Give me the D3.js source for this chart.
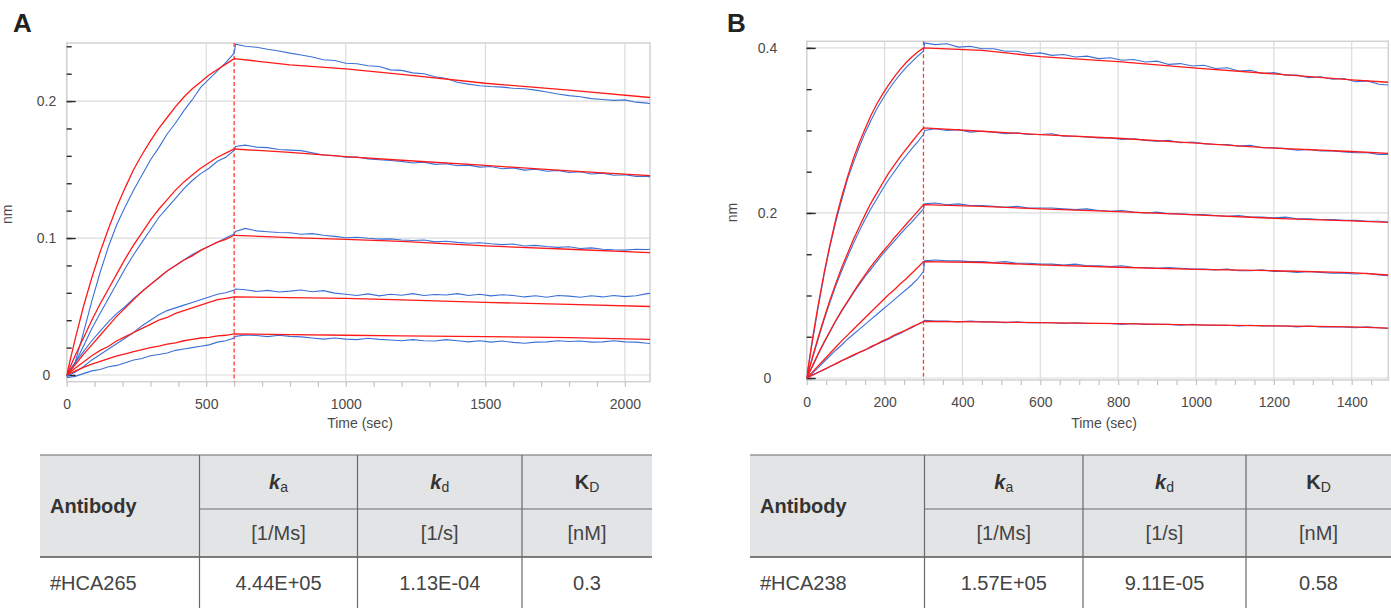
<!DOCTYPE html>
<html>
<head>
<meta charset="utf-8">
<script src="https://cdn.jsdelivr.net/npm/d3@7"></script>
<style>
  body { margin: 0; background: #fff; }
  text { font-family: "Liberation Sans", Arial, sans-serif; }
</style>
</head>
<body>
<svg id="chart" width="1391" height="608"></svg>
<script>
// ---------------- data : panel A (#HCA265) ----------------
var assocTimeA = [0, 30, 60, 90, 120, 150, 180, 210, 240, 270, 300, 330, 360, 390, 420, 450, 480, 510, 540, 570, 600];
var dissocTimeA = [605, 640, 680, 720, 760, 800, 840, 880, 920, 960, 1000, 1040, 1080, 1120, 1160, 1200, 1240, 1280, 1320, 1360,
  1400, 1440, 1480, 1520, 1560, 1600, 1640, 1680, 1720, 1760, 1800, 1840, 1880, 1920, 1960, 2000, 2040, 2080, 2090];
var fitDissocTimeA = [600, 800, 1000, 1200, 1500, 1800, 2090];

var measuredAssocA = [
  [-0.002, 0.009, 0.031, 0.054, 0.075, 0.094, 0.110, 0.123, 0.135, 0.146, 0.157, 0.166, 0.176, 0.184, 0.193, 0.201, 0.210, 0.216, 0.222, 0.228, 0.235],
  [0.000, 0.009, 0.021, 0.034, 0.045, 0.056, 0.067, 0.078, 0.088, 0.097, 0.106, 0.115, 0.122, 0.129, 0.136, 0.142, 0.147, 0.151, 0.156, 0.159, 0.164],
  [0.000, 0.009, 0.017, 0.025, 0.032, 0.039, 0.045, 0.050, 0.056, 0.061, 0.066, 0.071, 0.076, 0.080, 0.084, 0.088, 0.091, 0.094, 0.097, 0.100, 0.103],
  [-0.001, 0.002, 0.006, 0.011, 0.015, 0.019, 0.023, 0.027, 0.031, 0.036, 0.040, 0.044, 0.047, 0.049, 0.051, 0.053, 0.055, 0.057, 0.059, 0.060, 0.062],
  [-0.002, -0.001, 0.001, 0.003, 0.004, 0.006, 0.007, 0.009, 0.011, 0.012, 0.014, 0.015, 0.016, 0.018, 0.019, 0.020, 0.021, 0.022, 0.024, 0.025, 0.027]
];
var measuredDissocA = [
  [0.2415, 0.2400, 0.2393, 0.2378, 0.2366, 0.2350, 0.2336, 0.2322, 0.2302, 0.2296, 0.2276, 0.2272, 0.2258, 0.2252, 0.2228, 0.2224, 0.2206, 0.2200, 0.2178, 0.2165,
   0.2138, 0.2124, 0.2112, 0.2106, 0.2102, 0.2094, 0.2090, 0.2080, 0.2066, 0.2052, 0.2040, 0.2032, 0.2018, 0.2012, 0.2005, 0.2009, 0.1992, 0.1985, 0.1980],
  [0.1668, 0.1678, 0.1664, 0.1660, 0.1646, 0.1642, 0.1638, 0.1622, 0.1606, 0.1602, 0.1590, 0.1592, 0.1578, 0.1572, 0.1566, 0.1560, 0.1548, 0.1554, 0.1538, 0.1542,
   0.1528, 0.1532, 0.1518, 0.1522, 0.1506, 0.1512, 0.1496, 0.1502, 0.1488, 0.1494, 0.1478, 0.1484, 0.1468, 0.1474, 0.1458, 0.1462, 0.1450, 0.1452, 0.1446],
  [0.1048, 0.1070, 0.1052, 0.1046, 0.1040, 0.1038, 0.1028, 0.1032, 0.1020, 0.1012, 0.1002, 0.1006, 0.0998, 0.0992, 0.0994, 0.0986, 0.0982, 0.0986, 0.0972, 0.0976,
   0.0968, 0.0962, 0.0966, 0.0958, 0.0952, 0.0956, 0.0942, 0.0946, 0.0938, 0.0932, 0.0936, 0.0924, 0.0928, 0.0918, 0.0914, 0.0912, 0.0918, 0.0916, 0.0918],
  [0.0628, 0.0622, 0.0610, 0.0618, 0.0606, 0.0612, 0.0620, 0.0608, 0.0616, 0.0598, 0.0590, 0.0580, 0.0592, 0.0578, 0.0590, 0.0582, 0.0594, 0.0580, 0.0588, 0.0584,
   0.0594, 0.0580, 0.0590, 0.0578, 0.0586, 0.0580, 0.0570, 0.0578, 0.0568, 0.0580, 0.0576, 0.0568, 0.0578, 0.0570, 0.0580, 0.0572, 0.0578, 0.0594, 0.0596],
  [0.0282, 0.0292, 0.0288, 0.0280, 0.0290, 0.0282, 0.0278, 0.0270, 0.0262, 0.0270, 0.0262, 0.0258, 0.0268, 0.0260, 0.0256, 0.0250, 0.0258, 0.0250, 0.0248, 0.0258,
   0.0250, 0.0242, 0.0250, 0.0240, 0.0248, 0.0238, 0.0232, 0.0240, 0.0242, 0.0250, 0.0244, 0.0248, 0.0240, 0.0242, 0.0250, 0.0242, 0.0240, 0.0232, 0.0230]
];
var fitAssocA = [
  [0, 0.026, 0.050, 0.071, 0.090, 0.107, 0.123, 0.137, 0.150, 0.161, 0.171, 0.180, 0.188, 0.196, 0.203, 0.209, 0.214, 0.219, 0.223, 0.227, 0.231],
  [0, 0.014, 0.027, 0.040, 0.052, 0.063, 0.074, 0.085, 0.095, 0.104, 0.113, 0.121, 0.128, 0.135, 0.141, 0.146, 0.151, 0.155, 0.159, 0.162, 0.165],
  [0, 0.0075, 0.015, 0.022, 0.029, 0.036, 0.043, 0.049, 0.055, 0.061, 0.066, 0.071, 0.076, 0.080, 0.084, 0.087, 0.091, 0.094, 0.097, 0.099, 0.102],
  [0, 0.005, 0.0095, 0.014, 0.018, 0.021, 0.025, 0.028, 0.031, 0.034, 0.037, 0.040, 0.042, 0.045, 0.047, 0.049, 0.051, 0.053, 0.055, 0.056, 0.057],
  [0, 0.0028, 0.0055, 0.008, 0.010, 0.012, 0.014, 0.0155, 0.017, 0.0185, 0.020, 0.021, 0.0225, 0.0235, 0.025, 0.026, 0.027, 0.0275, 0.0285, 0.029, 0.030]
];
var fitDissocA = [
  [0.231, 0.2265, 0.2235, 0.2195, 0.213, 0.208, 0.2026],
  [0.165, 0.1625, 0.1595, 0.1568, 0.153, 0.149, 0.1455],
  [0.102, 0.1003, 0.099, 0.0975, 0.0942, 0.0918, 0.0894],
  [0.057, 0.0565, 0.056, 0.0548, 0.053, 0.0515, 0.050],
  [0.030, 0.0295, 0.029, 0.0286, 0.028, 0.0273, 0.026]
];
var xLabelsA = [0, 500, 1000, 1500, 2000];
var yLabelsA = [0, 0.1, 0.2];
var yMinorA = [0, 0.02, 0.04, 0.06, 0.08, 0.1, 0.12, 0.14, 0.16, 0.18, 0.2, 0.22, 0.24];

// ---------------- data : panel B (#HCA238) ----------------
var assocTimeB = [0, 15, 30, 45, 60, 75, 90, 105, 120, 135, 150, 165, 180, 195, 210, 225, 240, 255, 270, 285, 300];
var dissocTimeB = [303, 330, 360, 390, 420, 450, 480, 510, 540, 570, 600, 630, 660, 690, 720, 750, 780, 810, 840, 870,
  900, 930, 960, 990, 1020, 1050, 1080, 1110, 1140, 1170, 1200, 1230, 1260, 1290, 1320, 1350, 1380, 1410, 1440, 1470, 1494];
var fitDissocTimeB = [300, 450, 600, 800, 1000, 1200, 1400, 1494];

var measuredAssocB = [
  [0.002, 0.045, 0.087, 0.126, 0.160, 0.190, 0.216, 0.241, 0.261, 0.280, 0.297, 0.312, 0.326, 0.338, 0.349, 0.359, 0.368, 0.376, 0.383, 0.390, 0.396],
  [0.001, 0.024, 0.048, 0.071, 0.092, 0.112, 0.130, 0.147, 0.163, 0.178, 0.192, 0.205, 0.217, 0.229, 0.240, 0.250, 0.260, 0.269, 0.278, 0.286, 0.295],
  [0.001, 0.014, 0.029, 0.043, 0.056, 0.069, 0.081, 0.092, 0.103, 0.113, 0.123, 0.132, 0.141, 0.150, 0.158, 0.166, 0.174, 0.182, 0.189, 0.197, 0.205],
  [0.000, 0.006, 0.013, 0.020, 0.027, 0.034, 0.040, 0.047, 0.053, 0.059, 0.065, 0.071, 0.077, 0.083, 0.089, 0.095, 0.101, 0.107, 0.113, 0.120, 0.129],
  [0.000, 0.004, 0.007, 0.010, 0.014, 0.017, 0.021, 0.024, 0.027, 0.031, 0.034, 0.037, 0.041, 0.044, 0.047, 0.051, 0.054, 0.058, 0.061, 0.065, 0.068]
];
var measuredDissocB = [
  [0.406, 0.404, 0.405, 0.401, 0.402, 0.399, 0.399, 0.396, 0.396, 0.393, 0.394, 0.391, 0.392, 0.389, 0.390, 0.387, 0.388, 0.385, 0.386, 0.383,
   0.384, 0.380, 0.381, 0.378, 0.379, 0.375, 0.376, 0.372, 0.373, 0.369, 0.370, 0.367, 0.367, 0.364, 0.365, 0.362, 0.363, 0.359, 0.360, 0.356, 0.355],
  [0.300, 0.302, 0.300, 0.301, 0.298, 0.299, 0.298, 0.296, 0.297, 0.295, 0.295, 0.296, 0.293, 0.293, 0.292, 0.291, 0.291, 0.289, 0.290, 0.288,
   0.287, 0.288, 0.285, 0.286, 0.284, 0.283, 0.283, 0.281, 0.282, 0.279, 0.279, 0.278, 0.276, 0.277, 0.275, 0.275, 0.274, 0.273, 0.273, 0.271, 0.271],
  [0.211, 0.212, 0.210, 0.211, 0.209, 0.209, 0.208, 0.207, 0.208, 0.206, 0.206, 0.206, 0.205, 0.204, 0.205, 0.203, 0.202, 0.203, 0.201, 0.200,
   0.201, 0.199, 0.199, 0.198, 0.198, 0.197, 0.196, 0.197, 0.195, 0.195, 0.194, 0.195, 0.193, 0.193, 0.192, 0.192, 0.191, 0.191, 0.190, 0.190, 0.189],
  [0.142, 0.143, 0.142, 0.142, 0.141, 0.141, 0.140, 0.141, 0.139, 0.139, 0.138, 0.138, 0.137, 0.138, 0.136, 0.136, 0.135, 0.136, 0.134, 0.134,
   0.133, 0.134, 0.133, 0.132, 0.132, 0.131, 0.132, 0.130, 0.130, 0.131, 0.129, 0.129, 0.128, 0.129, 0.128, 0.127, 0.127, 0.126, 0.127, 0.125, 0.124],
  [0.070, 0.069, 0.069, 0.068, 0.069, 0.068, 0.068, 0.067, 0.068, 0.067, 0.067, 0.067, 0.066, 0.067, 0.066, 0.066, 0.066, 0.065, 0.066, 0.065,
   0.065, 0.065, 0.064, 0.065, 0.064, 0.064, 0.064, 0.063, 0.064, 0.063, 0.063, 0.063, 0.062, 0.063, 0.062, 0.062, 0.062, 0.061, 0.062, 0.061, 0.060]
];
var fitAssocB = [
  [0, 0.048, 0.090, 0.128, 0.162, 0.193, 0.220, 0.244, 0.266, 0.285, 0.302, 0.318, 0.332, 0.344, 0.355, 0.365, 0.374, 0.382, 0.389, 0.395, 0.400],
  [0, 0.026, 0.050, 0.073, 0.095, 0.115, 0.134, 0.151, 0.168, 0.183, 0.198, 0.212, 0.224, 0.236, 0.248, 0.258, 0.268, 0.277, 0.286, 0.295, 0.303],
  [0, 0.015, 0.030, 0.044, 0.057, 0.070, 0.082, 0.093, 0.104, 0.115, 0.125, 0.135, 0.144, 0.153, 0.161, 0.170, 0.178, 0.186, 0.194, 0.202, 0.210],
  [0, 0.0075, 0.015, 0.0225, 0.030, 0.0375, 0.045, 0.052, 0.059, 0.066, 0.073, 0.080, 0.087, 0.094, 0.101, 0.107, 0.114, 0.120, 0.127, 0.134, 0.141],
  [0, 0.0035, 0.007, 0.0105, 0.014, 0.0175, 0.021, 0.0245, 0.028, 0.031, 0.034, 0.038, 0.041, 0.045, 0.048, 0.052, 0.055, 0.058, 0.062, 0.065, 0.0685]
];
var fitDissocB = [
  [0.400, 0.397, 0.3895, 0.3834, 0.3754, 0.3685, 0.3612, 0.3584],
  [0.303, 0.299, 0.295, 0.2905, 0.2845, 0.2785, 0.2745, 0.2723],
  [0.210, 0.208, 0.205, 0.2016, 0.1976, 0.1935, 0.1905, 0.1885],
  [0.141, 0.140, 0.137, 0.1342, 0.1317, 0.130, 0.1276, 0.1248],
  [0.0685, 0.068, 0.067, 0.066, 0.0645, 0.0632, 0.062, 0.0605]
];
var xLabelsB = [0, 200, 400, 600, 800, 1000, 1200, 1400];
var yLabelsB = [0, 0.2, 0.4];
var yMinorB = [0, 0.05, 0.1, 0.15, 0.2, 0.25, 0.3, 0.35, 0.4];

// ---------------- data : kinetics tables ----------------
var headerSymbols = [["k", "a", true], ["k", "d", true], ["K", "D", false]];
var headerUnits = ["[1/Ms]", "[1/s]", "[nM]"];
var rowA = ["#HCA265", "4.44E+05", "1.13E-04", "0.3"];
var rowB = ["#HCA238", "1.57E+05", "9.11E-05", "0.58"];

var fitColor = "#ff1a1a", dataColor = "#3b70d6";
var svg = d3.select("#chart");

function drawPanel(p) {
  var x = d3.scaleLinear().domain(p.xDomain).range([p.left, p.right]);
  var y = d3.scaleLinear().domain(p.yDomain).range([p.bottom, p.top]);
  var g = svg.append("g");

  svg.append("clipPath").attr("id", "clip" + p.id)
    .append("rect")
    .attr("x", p.left).attr("y", p.top - 1)
    .attr("width", p.right - p.left).attr("height", p.bottom - p.top + 1);

  // grid
  g.selectAll(".vgrid").data(p.xLabels).enter().append("line")
    .attr("x1", d => x(d)).attr("x2", d => x(d))
    .attr("y1", p.top).attr("y2", p.bottom)
    .attr("stroke", "#dcdcdc").attr("stroke-width", 1.2);
  g.selectAll(".hgrid").data(p.yLabels).enter().append("line")
    .attr("x1", p.left).attr("x2", p.right)
    .attr("y1", d => y(d)).attr("y2", d => y(d))
    .attr("stroke", "#dcdcdc").attr("stroke-width", 1.2);

  g.append("rect")
    .attr("x", p.left).attr("y", p.top)
    .attr("width", p.right - p.left).attr("height", p.bottom - p.top)
    .attr("fill", "none").attr("stroke", "#d2d2d2").attr("stroke-width", 1.5);

  // bottom minor ticks
  var xMinor = g.append("g")
    .attr("transform", "translate(0," + p.bottom + ")")
    .call(d3.axisBottom(x).ticks(p.xMinorCount).tickSize(5).tickFormat(""));
  xMinor.select(".domain").remove();
  xMinor.selectAll("line").attr("stroke", "#c4c4c4").attr("stroke-width", 1.2);

  var xAxis = g.append("g")
    .attr("transform", "translate(0," + p.bottom + ")")
    .call(d3.axisBottom(x).tickValues(p.xLabels).tickSize(0).tickPadding(17)
      .tickFormat(d3.format("d")));
  xAxis.select(".domain").remove();
  xAxis.selectAll("text").attr("font-size", 14).attr("fill", "#4a4a4a")
    .attr("font-family", "Liberation Sans, Arial, sans-serif");

  // y ticks, drawn inside the frame
  var yMinor = g.append("g")
    .attr("transform", "translate(" + p.left + ",0)")
    .call(d3.axisRight(y).tickValues(p.yMinor).tickSize(5).tickFormat(""));
  yMinor.select(".domain").remove();
  yMinor.selectAll("line").attr("stroke", "#2a2a2a").attr("stroke-width", 1.4);
  var yMajor = g.append("g")
    .attr("transform", "translate(" + p.left + ",0)")
    .call(d3.axisRight(y).tickValues(p.yLabels).tickSize(9).tickFormat(""));
  yMajor.select(".domain").remove();
  yMajor.selectAll("line").attr("stroke", "#2a2a2a").attr("stroke-width", 1.4);

  g.selectAll(".ylab").data(p.yLabels).enter().append("text")
    .attr("x", p.yLabelX).attr("y", d => y(d)).attr("dy", "0.35em")
    .attr("text-anchor", "middle").attr("font-size", 14).attr("fill", "#4a4a4a")
    .text(d => d3.format("")(d));

  g.append("text")
    .attr("transform", "translate(" + p.nmX + "," + ((p.top + p.bottom) / 2 + 2) + ") rotate(-90)")
    .attr("text-anchor", "middle").attr("font-size", 14).attr("fill", "#4a4a4a")
    .text("nm");
  g.append("text")
    .attr("x", p.titleX).attr("y", 428)
    .attr("text-anchor", "middle").attr("font-size", 14).attr("fill", "#4a4a4a")
    .text("Time (sec)");
  g.append("text")
    .attr("x", p.letterX).attr("y", 32)
    .attr("font-size", 26).attr("font-weight", "bold").attr("fill", "#222")
    .text(p.letter);

  // end of association step
  g.append("line")
    .attr("x1", x(p.switchTime)).attr("x2", x(p.switchTime))
    .attr("y1", p.top).attr("y2", p.bottom)
    .attr("stroke", "#ff3a3a").attr("stroke-width", 1.3).attr("stroke-dasharray", "4,2.5");

  var line = d3.line().x(d => x(d[0])).y(d => y(d[1]));
  var curves = g.append("g").attr("clip-path", "url(#clip" + p.id + ")");

  p.measuredAssoc.forEach(function (s, i) {
    var pts = p.assocTime.map((t, j) => [t, s[j]])
      .concat(p.dissocTime.map((t, j) => [t, p.measuredDissoc[i][j]]));
    curves.append("path").datum(pts)
      .attr("d", line).attr("fill", "none")
      .attr("stroke", dataColor).attr("stroke-width", 1.1);
  });
  p.fitAssoc.forEach(function (s, i) {
    var pts = p.assocTime.map((t, j) => [t, s[j]])
      .concat(p.fitDissocTime.map((t, j) => [t, p.fitDissoc[i][j]]));
    curves.append("path").datum(pts)
      .attr("d", line).attr("fill", "none")
      .attr("stroke", fitColor).attr("stroke-width", 1.3);
  });
}

function drawTable(t) {
  var c = t.cols, g = svg.append("g");
  var yTop = 455, yMid = 509, yRule = 557, yEnd = 615;
  g.append("rect").attr("x", c[0]).attr("y", yTop)
    .attr("width", c[4] - c[0]).attr("height", yRule - yTop).attr("fill", "#e3e4e6");
  g.append("line").attr("x1", c[0]).attr("x2", c[4]).attr("y1", yTop).attr("y2", yTop)
    .attr("stroke", "#6a6a6a").attr("stroke-width", 1.2);
  g.append("line").attr("x1", c[1]).attr("x2", c[4]).attr("y1", yMid).attr("y2", yMid)
    .attr("stroke", "#6a6a6a").attr("stroke-width", 1.2);
  g.append("line").attr("x1", c[0]).attr("x2", c[4]).attr("y1", yRule).attr("y2", yRule)
    .attr("stroke", "#555").attr("stroke-width", 1.6);
  g.selectAll(".vline").data(c.slice(1, 4)).enter().append("line")
    .attr("x1", d => d).attr("x2", d => d).attr("y1", yTop).attr("y2", yEnd)
    .attr("stroke", "#6a6a6a").attr("stroke-width", 1.2);

  var fs = 20;
  g.append("text").attr("x", c[0] + 10).attr("y", (yTop + yRule) / 2 + 7)
    .attr("font-size", fs).attr("font-weight", "bold").attr("fill", "#333")
    .text("Antibody");

  headerSymbols.forEach(function (h, i) {
    var cx = (c[i + 1] + c[i + 2]) / 2;
    var txt = g.append("text").attr("x", cx).attr("y", (yTop + yMid) / 2 + 7)
      .attr("text-anchor", "middle").attr("font-size", fs).attr("fill", "#333");
    txt.append("tspan").attr("font-weight", "bold")
      .attr("font-style", h[2] ? "italic" : "normal").text(h[0]);
    txt.append("tspan").attr("font-size", 14).attr("dy", 3).text(h[1]);
    g.append("text").attr("x", cx).attr("y", (yMid + yRule) / 2 + 7)
      .attr("text-anchor", "middle").attr("font-size", fs).attr("fill", "#444")
      .text(headerUnits[i]);
  });

  t.row.forEach(function (v, i) {
    g.append("text")
      .attr("x", i === 0 ? c[0] + 10 : (c[i] + c[i + 1]) / 2)
      .attr("y", 590)
      .attr("text-anchor", i === 0 ? "start" : "middle")
      .attr("font-size", fs).attr("fill", "#444")
      .text(v);
  });
}

drawPanel({
  id: "A", letter: "A", letterX: 13,
  left: 66.7, right: 650, top: 43, bottom: 381.7,
  xDomain: [0, 2090], yDomain: [-0.0049, 0.2424],
  xLabels: xLabelsA, yLabels: yLabelsA, yMinor: yMinorA, xMinorCount: 20,
  yLabelX: 46.5, nmX: 12, titleX: 360, switchTime: 600,
  assocTime: assocTimeA, dissocTime: dissocTimeA, fitDissocTime: fitDissocTimeA,
  measuredAssoc: measuredAssocA, measuredDissoc: measuredDissocA,
  fitAssoc: fitAssocA, fitDissoc: fitDissocA
});
drawPanel({
  id: "B", letter: "B", letterX: 727,
  left: 806.7, right: 1388.3, top: 41.3, bottom: 380,
  xDomain: [0, 1494], yDomain: [-0.0024, 0.408],
  xLabels: xLabelsB, yLabels: yLabelsB, yMinor: yMinorB, xMinorCount: 30,
  yLabelX: 767.5, nmX: 737, titleX: 1104, switchTime: 300,
  assocTime: assocTimeB, dissocTime: dissocTimeB, fitDissocTime: fitDissocTimeB,
  measuredAssoc: measuredAssocB, measuredDissoc: measuredDissocB,
  fitAssoc: fitAssocB, fitDissoc: fitDissocB
});

drawTable({ cols: [40, 199.5, 357.5, 522, 652], row: rowA });
drawTable({ cols: [750, 924.5, 1083, 1246, 1391], row: rowB });
</script>
</body>
</html>
